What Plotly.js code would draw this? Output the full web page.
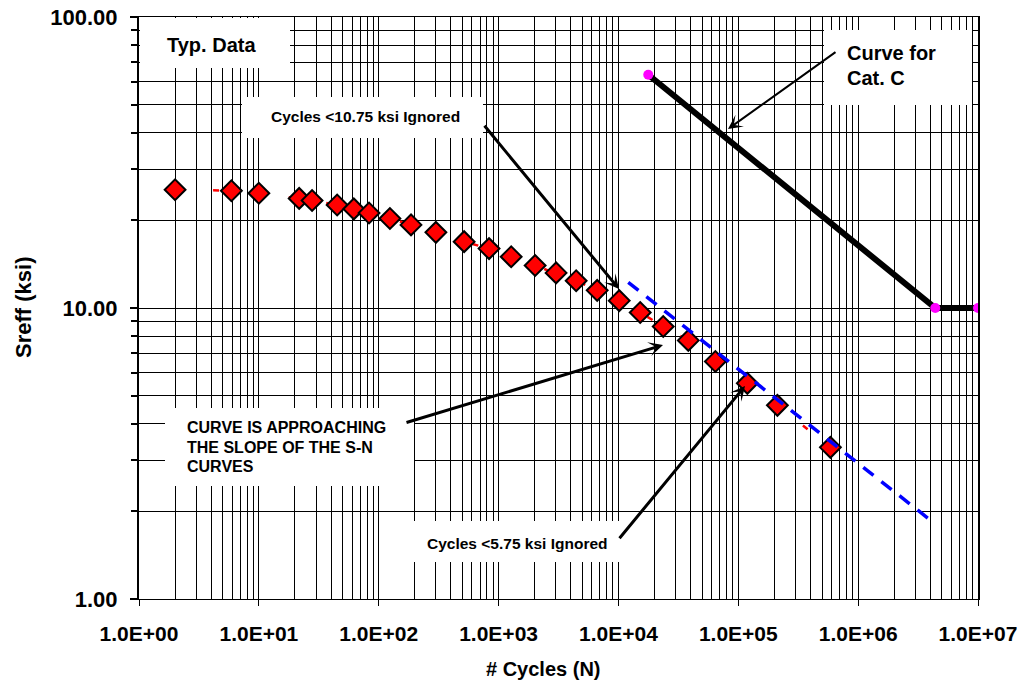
<!DOCTYPE html>
<html>
<head>
<meta charset="utf-8">
<script src="https://cdn.plot.ly/plotly-3.0.1.min.js"></script>
<style>html,body{margin:0;padding:0;background:#fff;}#chart{width:1022px;height:686px;}</style>
</head>
<body>
<div id="chart"></div>
<script>
// ---- data ----
const cycles = [2, 5.9, 10, 21.7, 27.8, 45, 62, 83, 124, 186, 300, 516, 833, 1274, 2019, 3020, 4440, 6650, 10160, 15200, 23650, 38300, 64400, 119000, 212000, 587000];
const sreff = [25.5, 25.3, 24.8, 23.8, 23.4, 22.6, 21.9, 21.2, 20.3, 19.3, 18.2, 16.9, 16.0, 15.0, 14.0, 13.2, 12.4, 11.5, 10.6, 9.65, 8.64, 7.74, 6.55, 5.51, 4.63, 3.32];
const snSlopeCycles = [12080, 4410000];
const snSlopeStress = [12.24, 1.81];
const catCCycles = [17740, 4400000, 10000000];
const catCStress = [63.3, 10, 10];
const xTickVals = [1, 10, 100, 1000, 10000, 100000, 1000000, 10000000];
const xTickText = ['1.0E+00', '1.0E+01', '1.0E+02', '1.0E+03', '1.0E+04', '1.0E+05', '1.0E+06', '1.0E+07'];
const yTickVals = [1, 10, 100];
const yTickText = ['1.00', '10.00', '100.00'];
const mantissas = [2, 3, 4, 5, 6, 7, 8, 9];
const xMinorVals = [];
[1, 10, 100, 1000, 10000, 100000, 1000000].forEach(d => mantissas.forEach(m => xMinorVals.push(m * d)));
const yMinorVals = [];
[1, 10].forEach(d => mantissas.forEach(m => yMinorVals.push(m * d)));

const FONT = 'Liberation Sans, Arial, Helvetica, sans-serif';

const traces = [
  {
    x: cycles, y: sreff, type: 'scatter', mode: 'lines+markers',
    line: {color: '#ff0000', width: 2.5, dash: '6px,32px'},
    marker: {symbol: 'diamond', size: 16, color: '#ff0000', line: {color: '#000', width: 2}},
    hoverinfo: 'skip'
  },
  {
    x: catCCycles, y: catCStress, type: 'scatter', mode: 'lines+markers',
    line: {color: '#000', width: 6},
    marker: {symbol: 'circle', size: 10, color: '#ff00ff'},
    hoverinfo: 'skip'
  },
  {
    x: snSlopeCycles, y: snSlopeStress, type: 'scatter', mode: 'lines',
    line: {color: '#0000ff', width: 3.5, dash: '13px,10px'},
    hoverinfo: 'skip'
  }
];

const px = x => (x - 139) / 839;
const py = y => (599 - y) / 582;

function box(x0, y0, x1, y1) {
  return {type: 'rect', xref: 'paper', yref: 'paper', x0: px(x0), x1: px(x1), y0: py(y1), y1: py(y0),
    fillcolor: '#fff', line: {width: 0}, layer: 'above'};
}
function label(text, x, y, size, xanchor, angle) {
  return {text: text, xref: 'paper', yref: 'paper', x: px(x), y: py(y), xanchor: xanchor || 'left', yanchor: 'middle',
    align: 'left', showarrow: false, textangle: angle || 0, font: {family: FONT, size: size, color: '#000', weight: 'bold'}};
}
function arrow(tx, ty, hx, hy, w, s) {
  return {text: ' ', xref: 'paper', yref: 'paper', x: px(hx), y: py(hy), ax: tx - hx, ay: ty - hy,
    showarrow: true, arrowhead: 3, arrowsize: s, arrowwidth: w, arrowcolor: '#000', standoff: 0,
    font: {size: 1}};
}

const layout = {
  width: 1022, height: 686,
  margin: {l: 139, r: 44, t: 17, b: 87},
  paper_bgcolor: '#fff', plot_bgcolor: '#fff',
  showlegend: false,
  font: {family: FONT, color: '#000'},
  xaxis: {
    type: 'log', range: [0, 7], tickmode: 'array', tickvals: xTickVals, ticktext: xTickText,
    ticks: 'outside', ticklen: 6, tickcolor: '#000', tickwidth: 1, ticklabelstandoff: 10,
    showgrid: true, gridcolor: '#000', gridwidth: 1,
    showline: true, linecolor: '#000', linewidth: 1, mirror: true, zeroline: false,
    tickfont: {family: FONT, size: 21, color: '#000', weight: 'bold'},
    minor: {tickmode: 'array', tickvals: xMinorVals, showgrid: true, gridcolor: '#000', gridwidth: 1, ticks: ''}
  },
  yaxis: {
    type: 'log', range: [0, 2], tickmode: 'array', tickvals: yTickVals, ticktext: yTickText,
    ticks: 'outside', ticklen: 7, tickcolor: '#000', tickwidth: 2, ticklabelstandoff: 8,
    showgrid: true, gridcolor: '#000', gridwidth: 1,
    showline: true, linecolor: '#000', linewidth: 2, mirror: true, zeroline: false,
    tickfont: {family: FONT, size: 22, color: '#000', weight: 'bold'},
    minor: {tickmode: 'array', tickvals: yMinorVals, showgrid: true, gridcolor: '#000', gridwidth: 1, ticks: 'outside', ticklen: 6, tickcolor: '#000', tickwidth: 2}
  },
  shapes: [
    box(140, 18, 290, 68),
    box(824, 30, 972, 105),
    box(242, 97, 483, 138),
    box(165, 408, 414, 486),
    box(405, 521, 628, 562)
  ],
  annotations: [
    label('# Cycles (N)', 543, 669, 20, 'center'),
    label('Sreff (ksi)', 23, 308, 22, 'center', -90),
    label('Typ. Data', 165, 45, 20),
    label('Curve for', 845, 53, 20),
    label('Cat. C', 845, 78, 20),
    label('Cycles &lt;10.75 ksi Ignored', 269, 117, 15.5),
    label('CURVE IS APPROACHING', 185, 428, 16),
    label('THE SLOPE OF THE S-N', 185, 447, 16),
    label('CURVES', 185, 466, 16),
    label('Cycles &lt;5.75 ksi Ignored', 425, 543, 15.5),
    arrow(837, 51, 728, 129, 2, 1.2),
    arrow(483, 124, 619, 289, 3, 0.8),
    arrow(405, 423, 663, 345, 3, 0.8),
    arrow(618, 540, 745, 386, 3, 0.8)
  ]
};

Plotly.newPlot('chart', traces, layout, {displayModeBar: false, staticPlot: true});
</script>
</body>
</html>
